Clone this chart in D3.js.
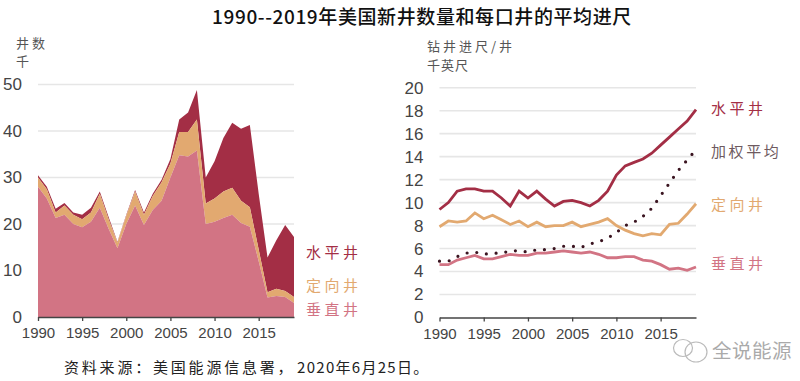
<!DOCTYPE html>
<html>
<head>
<meta charset="utf-8">
<script src="https://cdn.jsdelivr.net/npm/d3@7"></script>
<style>
body { margin: 0; background: #fff; }
svg { display: block; }
text { font-family: "Noto Sans CJK SC", sans-serif; }
.axis text { font-family: "Liberation Sans", Arial, sans-serif; fill: #444; }
</style>
</head>
<body>
<svg width="800" height="381"></svg>
<script>
const years = d3.range(1990, 2020);

// left panel, thousands of wells (vertical, vertical+directional, total)
const wellsVertical = [28, 25.5, 21.3, 22, 20, 19.3, 20.5, 23.5, 19, 14.8, 20, 24, 19.8, 23, 25, 30, 34.8, 34.5, 35.8, 20, 20.5, 21.3, 22, 20.2, 19.4, 12, 4.2, 4.5, 4.3, 3];
const wellsDirectionalTop = [30, 27.5, 22.5, 24, 22, 21, 22.5, 26.5, 21, 16, 21.8, 27, 22, 26, 29, 33, 39.8, 39.8, 42.5, 24.4, 25.5, 27, 27.8, 25, 23.6, 14.5, 5.3, 6.1, 5.6, 4.3];
const wellsTotal = [30.5, 28, 23.3, 24.5, 22.5, 22, 23.5, 27, 21.5, 16.2, 22, 27.3, 22.5, 26.5, 29.5, 34, 42.5, 44, 48.8, 30, 33.5, 38.5, 41.8, 40.5, 41.3, 26.5, 12.8, 16.5, 19.8, 17.2];

// right panel, thousand feet per well
const feetHorizontal = [9.4, 10, 11, 11.2, 11.2, 11, 11, 10.4, 9.7, 11, 10.4, 11, 10.3, 9.7, 10.1, 10.2, 10, 9.7, 10.2, 11, 12.4, 13.2, 13.5, 13.8, 14.3, 15, 15.7, 16.4, 17.1, 18.1];
const feetDirectional = [7.9, 8.4, 8.3, 8.4, 9.1, 8.6, 8.9, 8.5, 8.1, 8.4, 7.9, 8.3, 7.9, 8, 8, 8.3, 7.9, 8.1, 8.3, 8.6, 8, 7.6, 7.3, 7.1, 7.3, 7.2, 8.1, 8.2, 9, 9.9];
const feetVertical = [4.6, 4.6, 5, 5.2, 5.4, 5.1, 5.1, 5.3, 5.5, 5.4, 5.4, 5.6, 5.6, 5.7, 5.8, 5.7, 5.6, 5.7, 5.5, 5.2, 5.2, 5.3, 5.3, 5, 4.9, 4.6, 4.2, 4.3, 4.1, 4.4];
const feetWeighted = [4.9, 4.9, 5.3, 5.6, 5.7, 5.5, 5.6, 5.6, 5.8, 5.8, 5.7, 5.9, 5.9, 6, 6.2, 6.2, 6.1, 6.4, 6.6, 6.9, 7.4, 8, 8.3, 8.8, 9.5, 10.6, 11.7, 12.8, 13.7, 14.6];

const xTicks = [1990, 1995, 2000, 2005, 2010, 2015];
const leftTicks = [0, 10, 20, 30, 40, 50];
const rightTicks = d3.range(0, 21, 2);

const red = "#a32e45", orange = "#e2a970", pink = "#d27484";

var svg = d3.select("svg");

// left panel
var xLeft = d3.scaleLinear().domain([1990, 2019]).range([38, 294]);
var yLeft = d3.scaleLinear().domain([0, 50]).range([317, 84.5]);

function grid(x, y, ticks) {
    svg.append("g").selectAll("line").data(ticks.filter(function(d) { return d > 0; }))
        .enter().append("line")
        .attr("x1", x.range()[0]).attr("x2", x.range()[1])
        .attr("y1", function(d) { return y(d); }).attr("y2", function(d) { return y(d); })
        .attr("stroke", "#e6e6e6").attr("stroke-width", 1.6);
}

function axes(x, y, ticks, size) {
    var b = svg.append("g").attr("class", "axis")
        .attr("transform", "translate(0," + y(0) + ")")
        .call(d3.axisBottom(x).tickValues(xTicks).tickFormat(d3.format("d")).tickSize(4).tickSizeOuter(0));
    b.selectAll("text").attr("font-size", 15).attr("dy", "0.95em");
    b.selectAll("line, path").attr("stroke", "#444").attr("stroke-width", 1.3);

    var l = svg.append("g").attr("class", "axis")
        .attr("transform", "translate(" + (x(1990) - 12) + ",0)")
        .call(d3.axisLeft(y).tickValues(ticks).tickSize(0));
    l.select("path").remove();
    l.selectAll("text").attr("font-size", size).attr("x", -4);
}

grid(xLeft, yLeft, leftTicks);

function area(top, bottom) {
    return d3.area()
        .x(function(d, i) { return xLeft(years[i]); })
        .y0(function(d, i) { return yLeft(bottom ? bottom[i] : 0); })
        .y1(function(d, i) { return yLeft(top[i]); })(years);
}

svg.append("path").attr("d", area(wellsTotal, wellsDirectionalTop)).attr("fill", red);
svg.append("path").attr("d", area(wellsDirectionalTop, wellsVertical)).attr("fill", orange);
svg.append("path").attr("d", area(wellsVertical)).attr("fill", pink);

axes(xLeft, yLeft, leftTicks, 17);

// right panel
var xRight = d3.scaleLinear().domain([1990, 2019]).range([439.5, 696]);
var yRight = d3.scaleLinear().domain([0, 20]).range([317.5, 87.7]);

grid(xRight, yRight, rightTicks);
axes(xRight, yRight, rightTicks, 17);

var line = d3.line()
    .x(function(d, i) { return xRight(years[i]); })
    .y(function(d) { return yRight(d); });

svg.append("path").attr("d", line(feetVertical)).attr("fill", "none").attr("stroke", pink).attr("stroke-width", 2.8);
svg.append("path").attr("d", line(feetDirectional)).attr("fill", "none").attr("stroke", orange).attr("stroke-width", 2.8);
svg.append("path").attr("d", line(feetHorizontal)).attr("fill", "none").attr("stroke", red).attr("stroke-width", 2.8);
svg.append("path").attr("d", line(feetWeighted)).attr("fill", "none").attr("stroke", "#3a1420")
    .attr("stroke-width", 3.2).attr("stroke-linecap", "round").attr("stroke-dasharray", "0 9.8");

// texts
function label(x, y, s, size, color, spacing, anchor) {
    return svg.append("text").attr("x", x).attr("y", y).text(s)
        .attr("font-size", size).attr("fill", color)
        .attr("letter-spacing", spacing || 0)
        .attr("text-anchor", anchor || "start");
}

label(422, 24, "1990--2019年美国新井数量和每口井的平均进尺", 19, "#111", 0.6, "middle").attr("font-weight", 500);

label(16, 48, "井数", 13, "#555", 3);
label(16, 66, "千", 13, "#555");
label(427, 51, "钻井进尺/井", 13, "#555", 3);
label(427, 70, "千英尺", 13, "#555", 1);

label(306, 258, "水平井", 15, red, 3.5);
label(306, 291, "定向井", 15, orange, 3.5);
label(306, 315, "垂直井", 15, pink, 3.5);

label(711, 114, "水平井", 15, red, 3.5);
label(711, 157, "加权平均", 15, "#6e5a60", 2.6);
label(711, 210, "定向井", 15, orange, 3.5);
label(711, 269, "垂直井", 15, pink, 3.5);

label(64, 373, "资料来源：美国能源信息署，", 15, "#222", 2.8);
label(297, 373, "2020年6月25日。", 15, "#222", 1.3);

// watermark
var wm = svg.append("g").attr("fill", "none").attr("stroke", "#bbb").attr("stroke-width", 1.2);
wm.append("ellipse").attr("cx", 696).attr("cy", 352).attr("rx", 11).attr("ry", 10);
wm.append("ellipse").attr("cx", 683).attr("cy", 348).attr("rx", 9.5).attr("ry", 8.5);
label(712, 358, "全说能源", 19.5, "#aaa", 0.5);
</script>
</body>
</html>
